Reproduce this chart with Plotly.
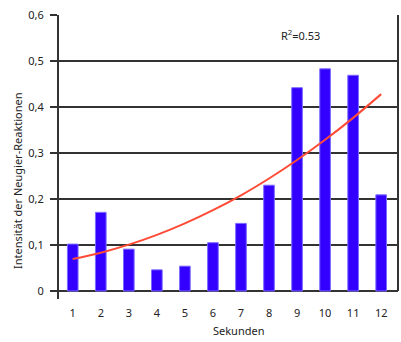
import plotly.graph_objects as go

seconds = [1, 2, 3, 4, 5, 6, 7, 8, 9, 10, 11, 12]
tick_labels = ["1", "2", "3", "4", "5", "6", "7", "8", "9", "10", "11", "12"]
intensity = [0.102, 0.171, 0.091, 0.046, 0.054, 0.105, 0.147, 0.230, 0.442, 0.483, 0.469, 0.209]
trend = [0.0696, 0.0833, 0.1007, 0.122, 0.147, 0.1757, 0.208, 0.2446, 0.2848, 0.3287, 0.3764, 0.428]
y_ticks = [0, 0.1, 0.2, 0.3, 0.4, 0.5, 0.6]
y_tick_labels = ["0", "0,1", "0,2", "0,3", "0,4", "0,5", "0,6"]
r2_text = "R<sup>2</sup>=0.53"

font = "Noto Sans"

fig = go.Figure()
fig.add_trace(go.Bar(
    x=seconds, y=intensity, width=0.38,
    marker=dict(color="#3300ff", line=dict(color="#7a6cff", width=1)),
))
fig.add_trace(go.Scatter(
    x=seconds, y=trend, mode="lines", line=dict(color="#ff4a36", width=2, shape="spline"),
))

fig.update_layout(
    width=401, height=342,
    margin=dict(l=59, r=3, t=15, b=43),
    paper_bgcolor="white", plot_bgcolor="white",
    showlegend=False,
    font=dict(family=font, size=11, color="#222"),
    xaxis=dict(
        range=[0.51, 12.6], tickmode="array", tickvals=seconds, ticktext=tick_labels,
        showgrid=False, zeroline=False, showline=False, ticks="",
        ticklabelstandoff=6,
        tickfont=dict(size=11, color="#222"),
    ),
    yaxis=dict(
        range=[-0.0174, 0.6], tickmode="array", tickvals=y_ticks, ticktext=y_tick_labels,
        showgrid=True, gridcolor="#333", gridwidth=1.5,
        zeroline=False, showline=True, linecolor="#333", linewidth=2,
        ticks="outside", ticklen=7, tickcolor="#333", tickwidth=1.5,
        ticklabelstandoff=4,
        tickfont=dict(size=11, color="#222"),
    ),
    shapes=[dict(type="line", xref="paper", yref="y", x0=1, x1=1, y0=0, y1=0.6,
                 line=dict(color="#333", width=2))],
    annotations=[
        dict(text=r2_text, xref="paper", yref="paper", x=(300 - 59) / 339, y=(299 - 35) / 284,
             showarrow=False, xanchor="center", yanchor="middle", font=dict(size=11, color="#222")),
        dict(text="Sekunden", xref="paper", yref="paper", x=(238 - 59) / 339, y=(299 - 330) / 284,
             showarrow=False, xanchor="center", yanchor="middle", font=dict(size=11, color="#222")),
        dict(text="Intensität der Neugier-Reaktionen", xref="paper", yref="paper",
             x=(17 - 59) / 339, y=(299 - 181) / 284, textangle=-90,
             showarrow=False, xanchor="center", yanchor="middle", font=dict(size=11, color="#222")),
    ],
)

fig.write_html("out.html")
